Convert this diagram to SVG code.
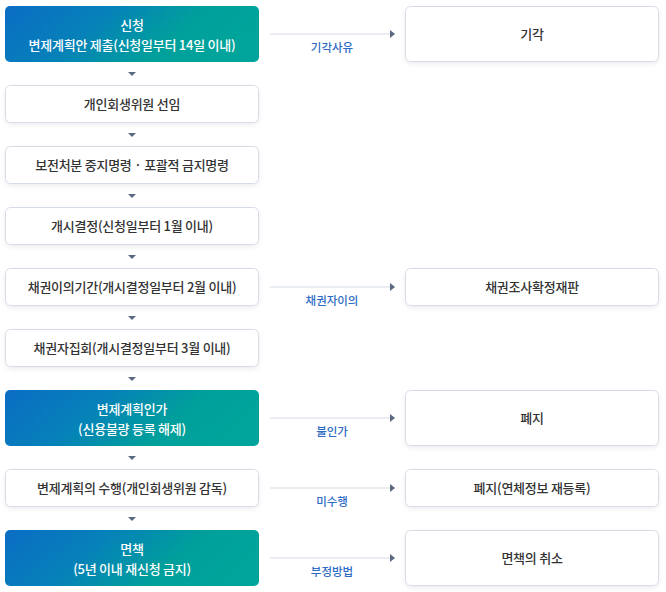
<svg xmlns="http://www.w3.org/2000/svg" width="666" height="592" viewBox="0 0 666 592">
<defs>
<linearGradient id="grad" x1="0" y1="0" x2="1" y2="0.25">
<stop offset="0" stop-color="#0b6dc4"/>
<stop offset="0.4" stop-color="#0681b9"/>
<stop offset="0.75" stop-color="#009f9c"/>
<stop offset="1" stop-color="#00a49a"/>
</linearGradient>
<filter id="sh" x="-5%" y="-20%" width="110%" height="150%">
<feDropShadow dx="0" dy="2" stdDeviation="2.5" flood-color="#1e2a40" flood-opacity="0.07"/>
</filter>
<marker id="ah" viewBox="0 0 5 8" refX="5" refY="4" markerWidth="5" markerHeight="8" markerUnits="userSpaceOnUse" orient="auto">
<path d="M0,0 L5,4 L0,8 Z" fill="#5c6880"/>
</marker>
</defs>
<style>
.box{fill:#ffffff;stroke:#d6dce6;stroke-width:1;filter:url(#sh);}
.gbox{fill:url(#grad);}
.t{font-family:"Noto Sans CJK KR","Noto Sans",sans-serif;font-size:13px;font-weight:500;fill:#333333;text-anchor:middle;letter-spacing:-0.25px;}
.w{fill:#ffffff;}
.lbl{font-family:"Noto Sans CJK KR","Noto Sans",sans-serif;font-size:11.5px;font-weight:500;fill:#2f6cc4;text-anchor:middle;}
.ln{stroke:#d6dce6;stroke-width:1.2;fill:none;}
.da{fill:#5c6880;}
</style>
<rect width="666" height="592" fill="#ffffff"/>

<g id="connectors">
<path class="ln" d="M270,34 H395" marker-end="url(#ah)"/>
<path class="ln" d="M270,287 H395" marker-end="url(#ah)"/>
<path class="ln" d="M270,418 H395" marker-end="url(#ah)"/>
<path class="ln" d="M270,488 H395" marker-end="url(#ah)"/>
<path class="ln" d="M270,558 H395" marker-end="url(#ah)"/>
<text class="lbl" x="332" y="52">기각사유</text>
<text class="lbl" x="332" y="305">채권자이의</text>
<text class="lbl" x="332" y="436">불인가</text>
<text class="lbl" x="332" y="506">미수행</text>
<text class="lbl" x="332" y="576">부정방법</text>
<polygon class="da" points="128,72 136,72 132,76"/>
<polygon class="da" points="128,133 136,133 132,137"/>
<polygon class="da" points="128,194 136,194 132,198"/>
<polygon class="da" points="128,255 136,255 132,259"/>
<polygon class="da" points="128,316 136,316 132,320"/>
<polygon class="da" points="128,377 136,377 132,381"/>
<polygon class="da" points="128,456 136,456 132,460"/>
<polygon class="da" points="128,517 136,517 132,521"/>
</g>

<g id="n1"><rect class="gbox" x="5" y="6" width="254" height="56" rx="5"/>
<text class="t w" x="132" y="30">신청</text>
<text class="t w" x="132" y="49.5">변제계획안 제출(신청일부터 14일 이내)</text></g>
<g id="n2"><rect class="box" x="5.5" y="85.5" width="253" height="37" rx="5"/>
<text class="t" x="132" y="108.5">개인회생위원 선임</text></g>
<g id="n3"><rect class="box" x="5.5" y="146.5" width="253" height="37" rx="5"/>
<text class="t" x="132" y="169.5">보전처분 중지명령 · 포괄적 금지명령</text></g>
<g id="n4"><rect class="box" x="5.5" y="207.5" width="253" height="37" rx="5"/>
<text class="t" x="132" y="230.5">개시결정(신청일부터 1월 이내)</text></g>
<g id="n5"><rect class="box" x="5.5" y="268.5" width="253" height="37" rx="5"/>
<text class="t" x="132" y="291.5">채권이의기간(개시결정일부터 2월 이내)</text></g>
<g id="n6"><rect class="box" x="5.5" y="329.5" width="253" height="37" rx="5"/>
<text class="t" x="132" y="352.5">채권자집회(개시결정일부터 3월 이내)</text></g>
<g id="n7"><rect class="gbox" x="5" y="390" width="254" height="56" rx="5"/>
<text class="t w" x="132" y="414">변제계획인가</text>
<text class="t w" x="132" y="433.5">(신용불량 등록 해제)</text></g>
<g id="n8"><rect class="box" x="5.5" y="469.5" width="253" height="37" rx="5"/>
<text class="t" x="132" y="492.5">변제계획의 수행(개인회생위원 감독)</text></g>
<g id="n9"><rect class="gbox" x="5" y="530" width="254" height="56" rx="5"/>
<text class="t w" x="132" y="554">면책</text>
<text class="t w" x="132" y="573.5">(5년 이내 재신청 금지)</text></g>

<g id="r1"><rect class="box" x="405.5" y="6.5" width="253" height="55" rx="5"/>
<text class="t" x="532" y="38.5">기각</text></g>
<g id="r5"><rect class="box" x="405.5" y="268.5" width="253" height="37" rx="5"/>
<text class="t" x="532" y="291.5">채권조사확정재판</text></g>
<g id="r7"><rect class="box" x="405.5" y="390.5" width="253" height="55" rx="5"/>
<text class="t" x="532" y="422.5">폐지</text></g>
<g id="r8"><rect class="box" x="405.5" y="469.5" width="253" height="37" rx="5"/>
<text class="t" x="532" y="492.5">폐지(연체정보 재등록)</text></g>
<g id="r9"><rect class="box" x="405.5" y="530.5" width="253" height="55" rx="5"/>
<text class="t" x="532" y="562.5">면책의 취소</text></g>
</svg>
